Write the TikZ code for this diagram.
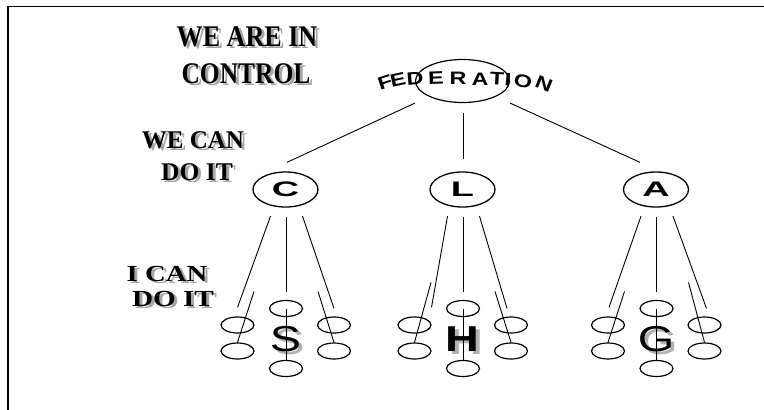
\documentclass[tikz,border=0pt]{standalone}
\usepackage{fontspec}
\setmainfont{Liberation Serif}
\setsansfont{Liberation Sans}
\usepackage{graphicx}
\usetikzlibrary{shapes.geometric,calc}

% text with a grey drop shadow
\newcommand\motto[5][]{%
  \node[motto,#1,text=black!35] at ([shift={(3,2)}]#4) {\scalebox{#3}[1]{#5}};
  \node[motto,#1] (#2) at (#4) {\scalebox{#3}[1]{#5}};}

\begin{document}
\begin{tikzpicture}[x=1pt,y=-1pt,
  motto/.style={anchor=base,inner sep=0pt,font=\bfseries\fontsize{30}{30}\selectfont},
  mmid/.style={font=\bfseries\fontsize{25.5}{25.5}\selectfont},
  msmall/.style={font=\bfseries\fontsize{23}{23}\selectfont},
  fedletter/.style={inner sep=0pt,font=\sffamily\bfseries\fontsize{18}{18}\selectfont},
  hub/.style={ellipse,draw,line width=1.3pt,minimum width=65pt,minimum height=35pt,inner sep=0pt,
    font=\sffamily\bfseries\fontsize{21}{21}\selectfont},
  leaf/.style={ellipse,draw,line width=1.2pt,minimum width=33pt,minimum height=16pt,inner sep=0pt},
  bigltr/.style={inner sep=0pt,font=\sffamily\fontsize{36}{36}\selectfont},
  link/.style={line width=0.9pt}]
\useasboundingbox (0,0) rectangle (764,410);
\draw[line width=1.8pt] (764,6.5) -| (8,410);

\motto{ctl1}{0.87}{247,46}{WE ARE IN}
\motto{ctl2}{0.85}{246,83}{CONTROL}
\motto[mmid]{we1}{0.98}{193,148}{WE CAN}
\motto[mmid]{we2}{1}{197,180}{DO IT}
\motto[msmall]{me1}{1.25}{167,281}{I CAN}
\motto[msmall]{me2}{1.27}{173,306}{DO IT}

% federation, letters on an arch
\node[ellipse,draw,line width=1.2pt,minimum width=94pt,minimum height=43pt,inner sep=0pt] (fed) at (462.5,81) {};
\foreach \ch/\px/\py/\ang [count=\i] in {F/385/82/18,E/398/80/12,D/415/79/5,E/436/78/2,R/458/78/0,
    A/480/79/0,T/497/79/-3,I/508/80/-6,O/523/81/-12,N/544/84/-22}
  \node[fedletter,rotate=\ang] (fed-\i) at (\px,\py) {\scalebox{1.3}[1]{\ch}};

% the three branches
\foreach \g/\cx/\lab/\ltr/\lle/\rle/\lsy/\rsy in {c/285.5/C/S/0/0/-25/-25,
    l/462.5/L/\textbf{H}/17/-4/-34/-25, a/656/A/G/1/2/-25/-34}{
  \node[hub] (\g) at (\cx,189.5) {\scalebox{1.8}[1]{\lab}};
  \node[leaf] (\g-lt) at (\cx-48,325) {};
  \node[leaf] (\g-lb) at (\cx-48,351) {};
  \node[leaf] (\g-mt) at (\cx+0.5,308.5) {};
  \node[leaf] (\g-mb) at (\cx+0.5,368.5) {};
  \node[leaf] (\g-rt) at (\cx+48.5,325) {};
  \node[leaf] (\g-rb) at (\cx+48.5,351) {};
  \node[bigltr,text=black!30] at (\cx+3.5,342.5) {\scalebox{1.3}[1]{\ltr}};
  \node[bigltr] (\g-ltr) at (\cx,339.5) {\scalebox{1.3}[1]{\ltr}};
  \draw[link] ($(\g.south)+(-15,8.5)$) -- ($(\g-lt.north)+(\lle,-9)$);
  \draw[link] ($(\g.south)+(0.5,9)$) -- ($(\g-mt.north)+(0,-8)$);
  \draw[link] ($(\g.south)+(17,8.5)$) -- ($(\g-rt.north)+(\rle,-8)$);
  \draw[link] ($(\g-lt.north)+(16.5,\lsy)$) -- (\g-lb.north);
  \draw[link] ($(\g-rt.north)+(-16,\rsy)$) -- (\g-rb.north);
  \draw[link] (\g-mt.center) -- (\g-mb.north);
}

\draw[link] (fed.south -| fed.west) -- ($(c.north)+(1.5,-9)$);
\draw[link] ($(fed.south)+(0.5,9.5)$) -- ($(l.north)+(0.5,-12)$);
\draw[link] (fed.south -| fed.east) -- ($(a.north)+(-16,-9)$);
\end{tikzpicture}
\end{document}
